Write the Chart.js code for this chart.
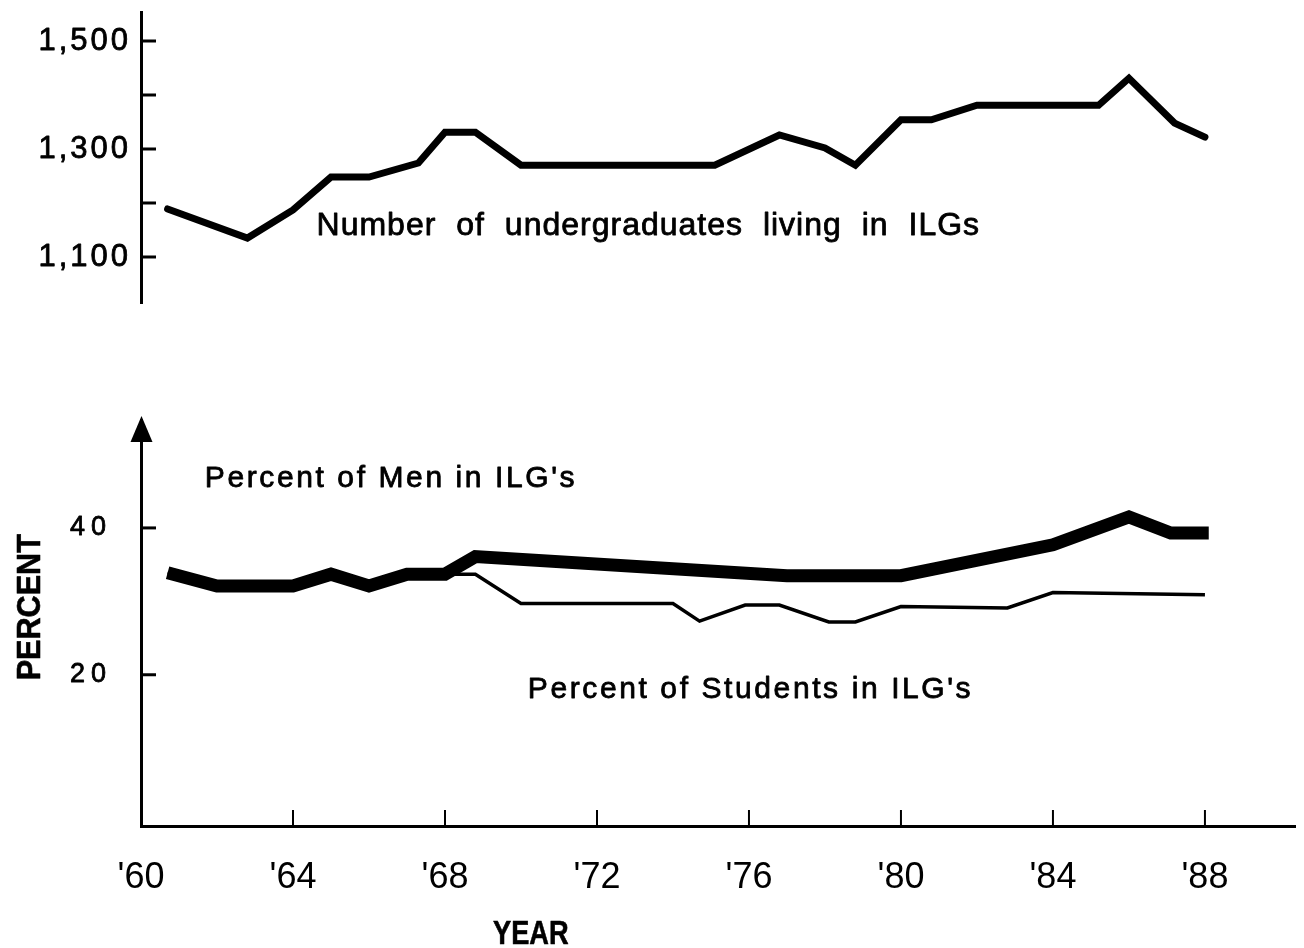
<!DOCTYPE html>
<html>
<head>
<meta charset="utf-8">
<title>ILG residence, 1960-1988</title>
<script src="https://cdn.jsdelivr.net/npm/chart.js@4.4.1/dist/chart.umd.min.js"></script>
<style>
  html, body { margin: 0; padding: 0; background: #fff; }
  #page { position: relative; width: 1304px; height: 948px; overflow: hidden; }
  .panel { position: absolute; left: 0; width: 1304px; }
  #top-panel { top: 0; height: 320px; }
  #bottom-panel { top: 320px; height: 628px; }
</style>
</head>
<body>
<div id="page">
  <div class="panel" id="top-panel"><canvas id="undergrads" width="1304" height="320"></canvas></div>
  <div class="panel" id="bottom-panel"><canvas id="percents" width="1304" height="628"></canvas></div>
</div>
<script>
// ==========================
// DATA
// ==========================
const undergradYears = [60.7, 62.8, 64, 65, 66, 67.3, 68, 68.8, 70, 75.1, 76.8, 78, 78.8, 80, 80.8, 82, 85.2, 86, 87.2, 88];
const undergradCounts = [1189, 1135, 1187, 1248, 1248, 1274, 1331, 1331, 1270, 1270, 1326, 1302, 1270, 1354, 1354, 1381, 1381, 1431, 1348, 1322];

const menYears = [60.7, 62, 64, 65, 66, 67, 68, 68.8, 77, 80, 84, 86, 87.1, 88.1];
const menPercent = [33.9, 32.1, 32.1, 33.7, 32.1, 33.7, 33.7, 36.1, 33.5, 33.5, 37.7, 41.5, 39.3, 39.3];

const studentYears = [60.7, 62, 64, 65, 66, 67, 68, 68.8, 70, 74, 74.7, 75.9, 76.8, 78.1, 78.8, 80, 82.8, 84, 88];
const studentPercent = [33.9, 32.1, 32.1, 33.7, 32.1, 33.7, 33.7, 33.7, 29.7, 29.7, 27.3, 29.5, 29.5, 27.2, 27.2, 29.3, 29.1, 31.2, 30.9];

const yearTicks = [60, 64, 68, 72, 76, 80, 84, 88];
const yearTickLabels = ["'60", "'64", "'68", "'72", "'76", "'80", "'84", "'88"];
const countTicks = [1100, 1200, 1300, 1400, 1500];
const countTickLabels = ["1,100", "", "1,300", "", "1,500"];
const percentTicks = [20, 40];
const percentTickLabels = ["20", "40"];

// ==========================
// HELPERS
// ==========================
const INK = "#000";
const SANS = "'Liberation Sans', Arial, Helvetica, sans-serif";
const AXIS_WIDTH = 141; // left edge of the plot, shared by both panels

function toPoints(xs, ys) {
  return xs.map((x, i) => ({ x: x, y: ys[i] }));
}

// printed text is a little heavier than the screen font, so it gets a thin outline
function drawText(ctx, text, x, y, opts) {
  ctx.save();
  ctx.font = opts.font;
  ctx.fillStyle = INK;
  ctx.strokeStyle = INK;
  ctx.lineWidth = opts.weight || 0.8;
  ctx.lineJoin = "round";
  ctx.textAlign = opts.align || "left";
  ctx.textBaseline = opts.baseline || "alphabetic";
  ctx.letterSpacing = (opts.spacing || 0) + "px";
  if (opts.wordSpacing) ctx.wordSpacing = opts.wordSpacing + "px";
  ctx.translate(x, y);
  if (opts.rotate) ctx.rotate(opts.rotate);
  if (opts.squeeze) ctx.scale(opts.squeeze, 1);
  ctx.fillText(text, 0, 0);
  ctx.strokeText(text, 0, 0);
  ctx.restore();
}

function drawLine(ctx, x1, y1, x2, y2, width) {
  ctx.save();
  ctx.strokeStyle = INK;
  ctx.lineWidth = width;
  ctx.beginPath();
  ctx.moveTo(x1, y1);
  ctx.lineTo(x2, y2);
  ctx.stroke();
  ctx.restore();
}

// y-axis tick marks point into the plot, labels sit to the left
function drawYAxisTicks(chart, labels, labelGap, font, spacing) {
  const scale = chart.scales.y;
  const ctx = chart.ctx;
  const axisX = scale.right + 1;
  scale.ticks.forEach((tick, i) => {
    const py = scale.getPixelForValue(tick.value);
    drawLine(ctx, axisX, py, axisX + 14, py, 3);
    if (labels[i]) {
      drawText(ctx, labels[i], scale.right - labelGap + spacing, py, {
        font: font, spacing: spacing, align: "right", baseline: "middle"
      });
    }
  });
}

function baseXScale() {
  return {
    type: "linear",
    min: 60,
    max: 90.37,
    afterBuildTicks: (scale) => {
      scale.ticks = yearTicks.map((v) => ({ value: v }));
    },
  };
}

// ==========================
// TOP PANEL: number of undergraduates
// ==========================
const topDecor = {
  id: "topDecor",
  afterDraw(chart) {
    const ctx = chart.ctx;
    const x = chart.scales.x;
    const y = chart.scales.y;
    drawYAxisTicks(chart, countTickLabels, 13, "31px " + SANS, 3);
    drawText(ctx, "Number of undergraduates living in ILGs",
      x.getPixelForValue(64.62), y.getPixelForValue(1140),
      { font: "32px " + SANS, spacing: 1, wordSpacing: 10 });
  },
};

new Chart(document.getElementById("undergrads"), {
  type: "line",
  data: {
    datasets: [
      {
        label: "Number of undergraduates living in ILGs",
        data: toPoints(undergradYears, undergradCounts),
        borderColor: INK,
        borderWidth: 7,
        borderCapStyle: "round",
        pointRadius: 0,
        tension: 0,
        fill: false,
      },
    ],
  },
  options: {
    responsive: false,
    animation: false,
    layout: { padding: { top: 12, right: 9, bottom: 17, left: 0 } },
    plugins: { legend: { display: false }, tooltip: { enabled: false } },
    scales: {
      x: Object.assign(baseXScale(), { display: false }),
      y: {
        type: "linear",
        min: 1014.8,
        max: 1553.7,
        afterBuildTicks: (scale) => {
          scale.ticks = countTicks.map((v) => ({ value: v }));
        },
        afterFit: (scale) => {
          scale.width = AXIS_WIDTH;
        },
        grid: { display: false, drawTicks: false },
        border: { display: true, color: INK, width: 3 },
        ticks: { display: false },
      },
    },
  },
  plugins: [topDecor],
});

// ==========================
// BOTTOM PANEL: percentages
// ==========================
const bottomDecor = {
  id: "bottomDecor",
  afterDraw(chart) {
    const ctx = chart.ctx;
    const x = chart.scales.x;
    const y = chart.scales.y;
    const area = chart.chartArea;
    const axisX = y.right + 0.5;

    drawYAxisTicks(chart, percentTickLabels, 35, "27px " + SANS, 6);

    // arrow head on top of the y axis
    ctx.save();
    ctx.fillStyle = INK;
    ctx.beginPath();
    ctx.moveTo(axisX, area.top - 4);
    ctx.lineTo(axisX - 11, area.top + 22);
    ctx.lineTo(axisX + 11, area.top + 22);
    ctx.closePath();
    ctx.fill();
    ctx.restore();

    // x tick marks point up into the plot ('60 has none)
    x.ticks.forEach((tick, i) => {
      if (i === 0) return;
      const px = x.getPixelForValue(tick.value);
      drawLine(ctx, px, area.bottom, px, area.bottom - 16, 2);
    });

    drawText(ctx, "Percent of Men in ILG's",
      x.getPixelForValue(61.68), y.getPixelForValue(45.6),
      { font: "30px " + SANS, spacing: 2.6 });
    drawText(ctx, "Percent of Students in ILG's",
      x.getPixelForValue(70.18), y.getPixelForValue(16.8),
      { font: "30px " + SANS, spacing: 2.6 });

    // axis titles
    drawText(ctx, "PERCENT", 40, y.getPixelForValue(29.2), {
      font: "bold 34px " + SANS, align: "center", rotate: -Math.PI / 2, squeeze: 0.9, weight: 0.6
    });
    drawText(ctx, "YEAR", x.getPixelForValue(70.26), area.bottom + 118, {
      font: "bold 34px " + SANS, align: "center", squeeze: 0.8, weight: 0.6
    });
  },
};

new Chart(document.getElementById("percents"), {
  type: "line",
  data: {
    datasets: [
      {
        label: "Percent of Men in ILG's",
        data: toPoints(menYears, menPercent),
        borderColor: INK,
        borderWidth: 13,
        pointRadius: 0,
        tension: 0,
        fill: false,
      },
      {
        label: "Percent of Students in ILG's",
        data: toPoints(studentYears, studentPercent),
        borderColor: INK,
        borderWidth: 3.5,
        pointRadius: 0,
        tension: 0,
        fill: false,
      },
    ],
  },
  options: {
    responsive: false,
    animation: false,
    layout: { padding: { top: 100, right: 9, bottom: 0, left: 0 } },
    plugins: { legend: { display: false }, tooltip: { enabled: false } },
    scales: {
      x: Object.assign(baseXScale(), {
        afterFit: (scale) => {
          scale.height = 122;
        },
        grid: { display: false, drawTicks: false },
        border: { display: true, color: INK, width: 3 },
        ticks: {
          autoSkip: false,
          maxRotation: 0,
          padding: 30,
          color: INK,
          font: { family: SANS, size: 36 },
          callback: (value) => {
            const i = yearTicks.indexOf(value);
            return i >= 0 ? yearTickLabels[i] : "";
          },
        },
      }),
      y: {
        type: "linear",
        min: -0.6,
        max: 54.7,
        afterBuildTicks: (scale) => {
          scale.ticks = percentTicks.map((v) => ({ value: v }));
        },
        afterFit: (scale) => {
          scale.width = AXIS_WIDTH;
        },
        grid: { display: false, drawTicks: false },
        border: { display: true, color: INK, width: 3 },
        ticks: { display: false },
      },
    },
  },
  plugins: [bottomDecor],
});
</script>
</body>
</html>
